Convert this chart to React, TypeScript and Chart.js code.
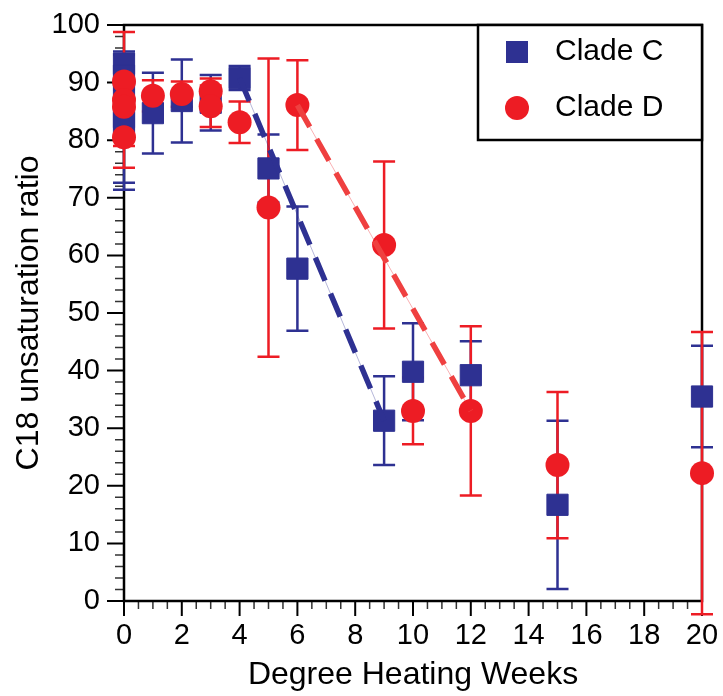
import React, { useEffect, useRef } from "react";
import { Chart, registerables } from "chart.js";

Chart.register(...registerables);

const FONT = "'Liberation Sans', Arial, Helvetica, sans-serif";
const BLUE = "#2e3192";
const RED = "#ed1c24";
const BLUE_THIN = "rgba(46,49,146,0.35)";
const RED_THIN = "rgba(237,28,36,0.35)";
const RED_DASH = "#ef4040";

// Clade C (blue squares)
const cladeCWeeks = [0, 0, 0, 0, 0, 1, 2, 3, 4, 5, 6, 9, 10, 12, 15, 20];
const cladeCRatio = [93.3, 91.2, 88.5, 84.0, 83.1, 84.7, 86.8, 86.5, 90.8, 75.1, 57.7, 31.3, 39.8, 39.2, 16.7, 35.5];
const cladeCError = [1.5, 1.5, 1.5, 11.4, 11.7, 7.0, 7.2, 4.8, 2.1, 5.9, 10.8, 7.7, 8.4, 5.9, 14.6, 8.8];

// Clade D (red circles)
const cladeDWeeks = [0, 0, 0, 0, 1, 2, 3, 3, 4, 5, 6, 9, 10, 12, 15, 20];
const cladeDRatio = [90.2, 87.0, 85.8, 80.5, 87.7, 88.0, 88.5, 85.9, 83.1, 68.3, 86.1, 61.8, 33.0, 33.0, 23.6, 22.2];
const cladeDError = [1.5, 11.8, 1.5, 1.5, 2.7, 2.2, 2.2, 3.6, 3.6, 25.9, 7.8, 14.5, 5.8, 14.7, 12.7, 24.5];

// Dashed trend segments
const cladeCTrendWeeks = [4, 9];
const cladeCTrendRatio = [90.8, 31.3];
const cladeDTrendWeeks = [6, 12];
const cladeDTrendRatio = [86.1, 33.0];

const legendLabels = ["Clade C", "Clade D"];
const xTitle = "Degree Heating Weeks";
const yTitle = "C18 unsaturation ratio";

const toPoints = (xs: number[], ys: number[]) => xs.map((x, i) => ({ x, y: ys[i] }));

const errorSets = [
  { xs: cladeCWeeks, ys: cladeCRatio, es: cladeCError, color: BLUE },
  { xs: cladeDWeeks, ys: cladeDRatio, es: cladeDError, color: RED },
];

const framePlugin = {
  id: "frameAndErrors",
  beforeDatasetsDraw(chart: any) {
    const { ctx, chartArea: a, scales } = chart;
    const x = scales.x;
    const y = scales.y;
    ctx.save();
    // minor ticks
    ctx.strokeStyle = "#333";
    ctx.lineWidth = 1.5;
    ctx.beginPath();
    for (let v = 0; v <= 100; v += 2) {
      if (v % 10 === 0) continue;
      const py = y.getPixelForValue(v);
      ctx.moveTo(a.left - 9, py);
      ctx.lineTo(a.left, py);
    }
    for (let v = 0; v <= 20; v += 0.5) {
      if (v % 2 === 0) continue;
      const px = x.getPixelForValue(v);
      ctx.moveTo(px, a.bottom);
      ctx.lineTo(px, a.bottom + 8);
    }
    ctx.stroke();
    // major ticks
    ctx.strokeStyle = "#000";
    ctx.lineWidth = 2;
    ctx.beginPath();
    for (let v = 0; v <= 100; v += 10) {
      const py = y.getPixelForValue(v);
      ctx.moveTo(a.left - 17, py);
      ctx.lineTo(a.left, py);
    }
    for (let v = 0; v <= 20; v += 2) {
      const px = x.getPixelForValue(v);
      ctx.moveTo(px, a.bottom);
      ctx.lineTo(px, a.bottom + 15);
    }
    ctx.stroke();
    // frame
    ctx.lineWidth = 2.5;
    ctx.strokeRect(a.left, a.top, a.right - a.left, a.bottom - a.top);
    // error bars
    ctx.lineWidth = 2.5;
    for (const s of errorSets) {
      ctx.strokeStyle = s.color;
      ctx.beginPath();
      s.xs.forEach((xv, i) => {
        const px = x.getPixelForValue(xv);
        const top = y.getPixelForValue(s.ys[i] + s.es[i]);
        const bot = y.getPixelForValue(s.ys[i] - s.es[i]);
        ctx.moveTo(px, top);
        ctx.lineTo(px, bot);
        ctx.moveTo(px - 11, top);
        ctx.lineTo(px + 11, top);
        ctx.moveTo(px - 11, bot);
        ctx.lineTo(px + 11, bot);
      });
      ctx.stroke();
    }
    ctx.restore();
  },
  afterDraw(chart: any) {
    const { ctx, chartArea: a } = chart;
    const left = 478;
    const top = a.top;
    const right = a.right;
    const bottom = 140;
    ctx.save();
    ctx.fillStyle = "#fff";
    ctx.fillRect(left, top, right - left, bottom - top);
    ctx.strokeStyle = "#000";
    ctx.lineWidth = 2.5;
    ctx.strokeRect(left, top, right - left, bottom - top);
    // markers
    const mx = 517;
    const y1 = 52;
    const y2 = 108;
    ctx.fillStyle = BLUE;
    ctx.fillRect(mx - 11, y1 - 11, 22, 22);
    ctx.fillStyle = RED;
    ctx.beginPath();
    ctx.arc(mx, y2, 12, 0, Math.PI * 2);
    ctx.fill();
    ctx.fillStyle = "#000";
    ctx.font = `30px ${FONT}`;
    ctx.textBaseline = "middle";
    ctx.textAlign = "left";
    ctx.fillText(legendLabels[0], 555, y1);
    ctx.fillText(legendLabels[1], 555, y2);
    ctx.restore();
  },
};

export default function App() {
  const ref = useRef<HTMLCanvasElement | null>(null);
  useEffect(() => {
    if (!ref.current) return;
    const chart = new Chart(ref.current, {
      type: "scatter",
      data: {
        datasets: [
          {
            label: legendLabels[0],
            data: toPoints(cladeCWeeks, cladeCRatio),
            pointStyle: "rect",
            pointRadius: 15,
            pointBackgroundColor: BLUE,
            pointBorderColor: BLUE,
            pointBorderWidth: 1,
            showLine: false,
            clip: false,
            order: 4,
          } as any,
          {
            label: legendLabels[1],
            data: toPoints(cladeDWeeks, cladeDRatio),
            pointStyle: "circle",
            pointRadius: 12,
            pointBackgroundColor: RED,
            pointBorderColor: RED,
            pointBorderWidth: 0,
            showLine: false,
            clip: false,
            order: 3,
          } as any,
          {
            data: toPoints(cladeCTrendWeeks, cladeCTrendRatio),
            showLine: true,
            borderColor: BLUE_THIN,
            borderWidth: 1,
            pointRadius: 0,
            clip: false,
            order: 2,
          } as any,
          {
            data: toPoints(cladeDTrendWeeks, cladeDTrendRatio),
            showLine: true,
            borderColor: RED_THIN,
            borderWidth: 1,
            pointRadius: 0,
            clip: false,
            order: 2,
          } as any,
          {
            data: toPoints(cladeCTrendWeeks, cladeCTrendRatio),
            showLine: true,
            borderColor: BLUE,
            borderWidth: 5.5,
            borderDash: [25, 14],
            borderCapStyle: "butt",
            pointRadius: 0,
            clip: false,
            order: 1,
          } as any,
          {
            data: toPoints(cladeDTrendWeeks, cladeDTrendRatio),
            showLine: true,
            borderColor: RED_DASH,
            borderWidth: 5.5,
            borderDash: [25, 14],
            borderCapStyle: "butt",
            pointRadius: 0,
            clip: false,
            order: 1,
          } as any,
        ],
      },
      options: {
        responsive: false,
        maintainAspectRatio: false,
        devicePixelRatio: 1,
        animation: false,
        events: [],
        layout: { padding: { left: 0, top: 25, right: 21, bottom: 0 } },
        plugins: { legend: { display: false }, tooltip: { enabled: false } },
        scales: {
          x: {
            type: "linear",
            min: 0,
            max: 20,
            afterFit: (s: any) => {
              s.height = 95;
              s.paddingLeft = 0;
              s.paddingRight = 0;
              s.paddingTop = 0;
              s.paddingBottom = 0;
            },
            ticks: {
              stepSize: 2,
              autoSkip: false,
              maxRotation: 0,
              color: "#000",
              padding: 18,
              font: { family: FONT, size: 29 },
            },
            grid: { display: true, drawOnChartArea: false, drawTicks: false, color: "transparent" },
            border: { display: false },
            title: {
              display: true,
              text: xTitle,
              color: "#000",
              font: { family: FONT, size: 32 },
              padding: { top: 0, bottom: 2 },
            },
          },
          y: {
            type: "linear",
            min: 0,
            max: 100,
            afterFit: (s: any) => {
              s.width = 124;
              s.paddingLeft = 0;
              s.paddingRight = 0;
              s.paddingTop = 0;
              s.paddingBottom = 0;
            },
            ticks: {
              stepSize: 10,
              autoSkip: false,
              color: "#000",
              padding: 24,
              font: { family: FONT, size: 29 },
            },
            grid: { display: true, drawOnChartArea: false, drawTicks: false, color: "transparent" },
            border: { display: false },
            title: {
              display: true,
              text: yTitle,
              color: "#000",
              font: { family: FONT, size: 32 },
              padding: { top: 10, bottom: 0 },
            },
          },
        },
      },
      plugins: [framePlugin],
    });
    return () => chart.destroy();
  }, []);
  return (
    <div style={{ position: "fixed", left: 0, top: 0, width: 723, height: 696, background: "#fff" }}>
      <canvas ref={ref} width={723} height={696} style={{ display: "block" }} />
    </div>
  );
}
